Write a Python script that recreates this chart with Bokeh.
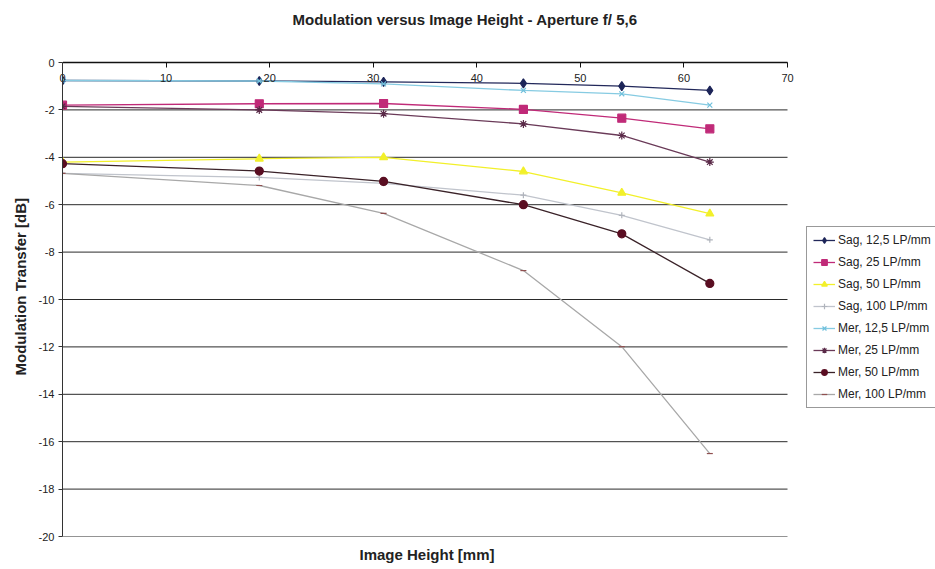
from bokeh.plotting import figure
from bokeh.models import (LinearAxis, Range1d, FixedTicker, Legend, LegendItem,
                          ColumnDataSource, Title)
from bokeh.embed import file_html
from bokeh.resources import INLINE

# ---------------- data ----------------
image_height = [0, 19, 31, 44.5, 54, 62.5]
sag_12_5 = [-0.76, -0.78, -0.82, -0.88, -1.0, -1.18]
sag_25 = [-1.8, -1.74, -1.73, -1.98, -2.35, -2.8]
sag_50 = [-4.2, -4.06, -4.0, -4.6, -5.5, -6.38]
sag_100 = [-4.68, -4.85, -5.1, -5.6, -6.45, -7.48]
mer_12_5 = [-0.76, -0.78, -0.9, -1.18, -1.32, -1.8]
mer_25 = [-1.85, -2.0, -2.16, -2.59, -3.08, -4.2]
mer_50 = [-4.27, -4.58, -5.02, -6.0, -7.23, -9.32]
mer_100 = [-4.68, -5.19, -6.37, -8.78, -11.99, -16.5]

series_names = ["Sag, 12,5 LP/mm", "Sag, 25 LP/mm", "Sag, 50 LP/mm", "Sag, 100 LP/mm",
                "Mer, 12,5 LP/mm", "Mer, 25 LP/mm", "Mer, 50 LP/mm", "Mer, 100 LP/mm"]
series_values = [sag_12_5, sag_25, sag_50, sag_100, mer_12_5, mer_25, mer_50, mer_100]

x_ticks = [0, 10, 20, 30, 40, 50, 60, 70]
y_ticks = [0, -2, -4, -6, -8, -10, -12, -14, -16, -18, -20]

title_text = "Modulation versus Image Height - Aperture f/ 5,6"
x_title = "Image Height [mm]"
y_title = "Modulation Transfer [dB]"

# ---------------- styles ----------------
styles = [
    dict(line="#22285a", marker="diamond", fill="#1c2458", size=9),
    dict(line="#c02a78", marker="square", fill="#c02a78", size=8),
    dict(line="#f2f02a", marker="triangle", fill="#f2f02a", size=8),
    dict(line="#c0c4cc", marker="cross", fill="#b0b4bc", size=6),
    dict(line="#86cbe2", marker="x", fill="#70c0dc", size=7),
    dict(line="#6a3a58", marker="asterisk", fill="#5a2a48", size=8),
    dict(line="#3a2228", marker="circle", fill="#5a0e22", size=8),
    dict(line="#a8a8a8", marker="dash", fill="#905050", size=6),
]

FONT = "Liberation Sans"

# plot area spans 0..70 over 725 px; the frame continues to the right edge
# so that the legend (which the reference crops at the edge) can sit there
X_MAX = x_ticks[-1]
FRAME_W = 935 - 62
x_end = X_MAX * FRAME_W / 725.0

p = figure(width=935, height=569, output_backend="svg", toolbar_location=None,
           x_range=Range1d(0, x_end), y_range=Range1d(y_ticks[-1], y_ticks[0]),
           x_axis_location=None, y_axis_location="left",
           min_border_left=62, min_border_right=0, min_border_top=62,
           min_border_bottom=33)
p.title = None
p.outline_line_color = None
p.background_fill_color = "white"
p.border_fill_color = "white"

# y axis
yax = p.yaxis[0]
yax.ticker = FixedTicker(ticks=y_ticks)
yax.major_label_overrides = {t: str(t) for t in y_ticks}
yax.minor_tick_line_color = None
yax.major_tick_out = 4
yax.major_tick_in = 0
yax.axis_line_color = "#333333"
yax.major_tick_line_color = "#333333"
yax.major_label_text_font = FONT
yax.major_label_text_font_size = "11px"
yax.major_label_text_color = "#222222"
yax.major_label_standoff = 4

ytitle = Title(text=y_title, align="left", offset=161, standoff=14,
               text_font=FONT, text_font_size="15px", text_font_style="bold",
               text_color="#222222")
p.add_layout(ytitle, "left")

# top x axis (labels drawn just under the line)
xtop = LinearAxis(ticker=FixedTicker(ticks=x_ticks), bounds=(0, X_MAX))
xtop.minor_tick_line_color = None
xtop.major_tick_out = 0
xtop.major_tick_in = 5
xtop.axis_line_color = "#111111"
xtop.axis_line_width = 1.5
xtop.major_tick_line_color = "#111111"
xtop.major_label_text_font = FONT
xtop.major_label_text_font_size = "11px"
xtop.major_label_text_color = "#222222"
xtop.major_label_standoff = -19
p.add_layout(xtop, "above")

# blank spacer axis (one white tick, no label) keeping the title near the top edge
spacer = LinearAxis(ticker=FixedTicker(ticks=x_ticks[:1]))
spacer.axis_line_color = None
spacer.major_tick_line_color = "white"
spacer.major_tick_line_alpha = 1.0
spacer.minor_tick_line_color = None
spacer.major_tick_out = 30
spacer.major_tick_in = 0
spacer.major_label_standoff = 0
spacer.major_label_overrides = {x_ticks[0]: ""}
spacer.major_label_text_font_size = "1px"
spacer.major_label_text_color = "white"
p.add_layout(spacer, "above")

main_title = Title(text=title_text, align="left", offset=230, standoff=10,
                   text_font=FONT, text_font_size="15px", text_font_style="bold",
                   text_color="#222222")
p.add_layout(main_title, "above")

# x axis title below the plot area
xtitle = Title(text=x_title, align="left", offset=297, standoff=14,
               text_font=FONT, text_font_size="15px", text_font_style="bold",
               text_color="#222222")
p.add_layout(xtitle, "below")

p.xgrid.grid_line_color = None
p.ygrid.grid_line_color = None

# horizontal gridlines, limited to the 0..70 range
p.segment(x0=[0] * len(y_ticks), x1=[X_MAX] * len(y_ticks), y0=y_ticks, y1=y_ticks,
          line_color="#2a2a2a", line_width=1)

items = []
for name, vals, st in zip(series_names, series_values, styles):
    src = ColumnDataSource(dict(x=image_height, y=vals))
    r_line = p.line("x", "y", source=src, line_color=st["line"], line_width=1.3)
    r_mark = p.scatter("x", "y", source=src, marker=st["marker"], size=st["size"],
                       fill_color=st["fill"], line_color=st["fill"], line_width=1.2)
    items.append(LegendItem(label=name, renderers=[r_line, r_mark]))

legend = Legend(items=items, location=(744, 128))
legend.label_text_font = FONT
legend.label_text_font_size = "12px"
legend.label_text_color = "#222222"
legend.border_line_color = "#333333"
legend.border_line_width = 1
legend.background_fill_color = "white"
legend.background_fill_alpha = 1
legend.glyph_width = 22
legend.glyph_height = 14
legend.label_height = 14
legend.spacing = 8
legend.padding = 6
legend.margin = 0
legend.label_standoff = 3
p.add_layout(legend, "center")

open("out.html", "w").write(file_html(p, INLINE))
